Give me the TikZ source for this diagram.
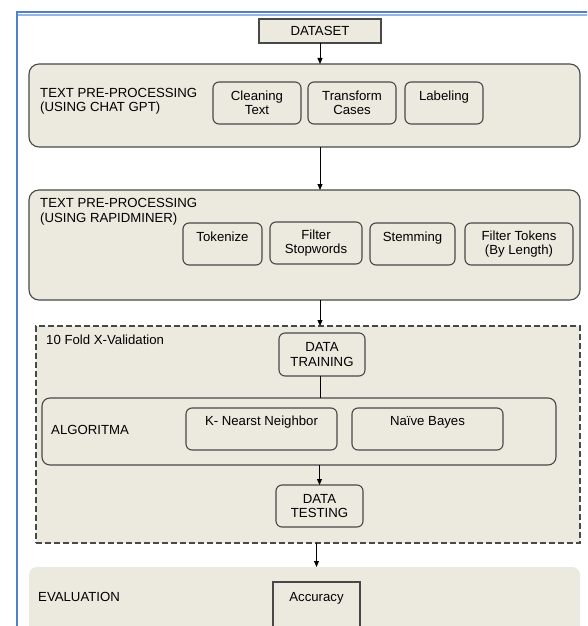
\documentclass[tikz,border=0pt]{standalone}
\usepackage{fontspec}
\setmainfont{Liberation Sans}
\usetikzlibrary{arrows.meta}
\definecolor{beige}{RGB}{236,233,223}
\definecolor{edge}{RGB}{72,72,72}
\definecolor{frameblue}{RGB}{80,128,198}
\definecolor{framelight}{RGB}{150,182,226}
\tikzset{
  panel/.style={draw=edge, fill=beige, rounded corners=10pt, line width=1.1pt, inner sep=0pt, outer sep=0pt},
  subbox/.style={draw=edge, fill=beige, rounded corners=6pt, line width=1.1pt, inner sep=0pt, outer sep=0pt, align=center},
  sqbox/.style={draw=edge, fill=beige, line width=1.1pt, inner sep=0pt, outer sep=0pt, align=center},
  upseven/.style={text height=10pt, text depth=15pt},
  upeight/.style={text height=10pt, text depth=17pt},
  uptop/.style={text height=10pt, text depth=29pt},
  lbl/.style={anchor=west, align=left, inner sep=0pt},
  conn/.style={draw=black, line width=1pt, -{Triangle[length=6pt,width=5pt]}},
  plain/.style={draw=black, line width=1pt},
}
\begin{document}
\begin{tikzpicture}[x=1pt, y=-1pt, font=\fontsize{13.2}{14.5}\selectfont]
\useasboundingbox (0,0) rectangle (587,626);
\clip (0,0) rectangle (587,626);
\fill[white] (0,0) rectangle (587,626);
% blue frame
\coordinate (fbl) at (16.7,640);
\coordinate (ftl) at (16.7,12.5);
\coordinate (ftr) at (600,12.5);
\coordinate (gl) at (17.7,14.8);
\coordinate (gr) at (600,14.8);
\draw[framelight, line width=2.2pt] (gl) -- (gr);
\draw[frameblue, line width=2pt] (fbl) -- (ftl) -- (ftr);

% dataset
\node[sqbox, minimum width=122pt, minimum height=24pt] (dataset) at (320,31) {DATASET};

% box 1
\node[panel, minimum width=551pt, minimum height=83pt] (box1) at (304.5,105.5) {};
\node[lbl] (t1) at (40,101.5) {TEXT PRE-PROCESSING\\(USING CHAT GPT)};
\node[subbox, minimum width=88pt, minimum height=42pt] (clean) at (257,103) {Cleaning\\Text};
\node[subbox, minimum width=88pt, minimum height=42pt] (trans) at (352,103) {Transform\\Cases};
\node[subbox, upseven, minimum width=78pt, minimum height=42pt] (label) at (444,103) {Labeling};

% box 2
\node[panel, minimum width=551pt, minimum height=110pt] (box2) at (304.5,245) {};
\node[lbl] (t2) at (40,212) {TEXT PRE-PROCESSING\\(USING RAPIDMINER)};
\node[subbox, upseven, minimum width=79pt, minimum height=42pt] (tok) at (222.5,244) {Tokenize};
\node[subbox, minimum width=92pt, minimum height=42pt] (stop) at (316,243) {Filter\\Stopwords};
\node[subbox, upseven, minimum width=85pt, minimum height=42pt] (stem) at (412.5,244) {Stemming};
\node[subbox, minimum width=108pt, minimum height=42pt] (ftok) at (519,244) {Filter Tokens\\(By Length)};

% validation
\node[draw=edge, fill=beige, line width=1.1pt, dash pattern=on 6pt off 3pt, inner sep=0pt, outer sep=0pt,
      minimum width=544pt, minimum height=217pt] (valid) at (308,434.5) {};
\node[lbl] (t3) at (46,340) {10 Fold X-Validation};
\node[subbox, minimum width=86pt, minimum height=43pt] (train) at (322,354.5) {DATA\\TRAINING};
\node[panel, rounded corners=8pt, minimum width=514pt, minimum height=67pt] (algo) at (299,431.5) {};
\node[lbl] (t4) at (51,430) {ALGORITMA};
\node[subbox, upeight, minimum width=151pt, minimum height=42pt] (knn) at (261.5,429) {K- Nearst Neighbor};
\node[subbox, upeight, minimum width=151pt, minimum height=42pt] (nb) at (427.5,429) {Naïve Bayes};
\node[subbox, minimum width=87pt, minimum height=42pt] (test) at (319.5,506) {DATA\\TESTING};

% evaluation
\node[fill=beige, rounded corners=8pt, inner sep=0pt, outer sep=0pt, minimum width=551pt, minimum height=93pt] (eval) at (304.5,613.5) {};
\node[lbl] (t5) at (38,597) {EVALUATION};
\node[sqbox, uptop, minimum width=87pt, minimum height=58pt] (acc) at (316.5,611) {Accuracy};

% connectors
\draw[conn] (dataset.south) -- (box1.north -| dataset.south);
\draw[conn] (box1.south -| dataset.south) -- (box2.north -| dataset.south);
\draw[conn] (box2.south -| dataset.south) -- (valid.north -| dataset.south);
\draw[plain] (train.south -| dataset.south) -- (algo.north -| dataset.south);
\draw[conn] (algo.south -| test.north) -- (test.north);
\draw[conn] (valid.south -| acc.north) -- (eval.north -| acc.north);
\end{tikzpicture}
\end{document}
